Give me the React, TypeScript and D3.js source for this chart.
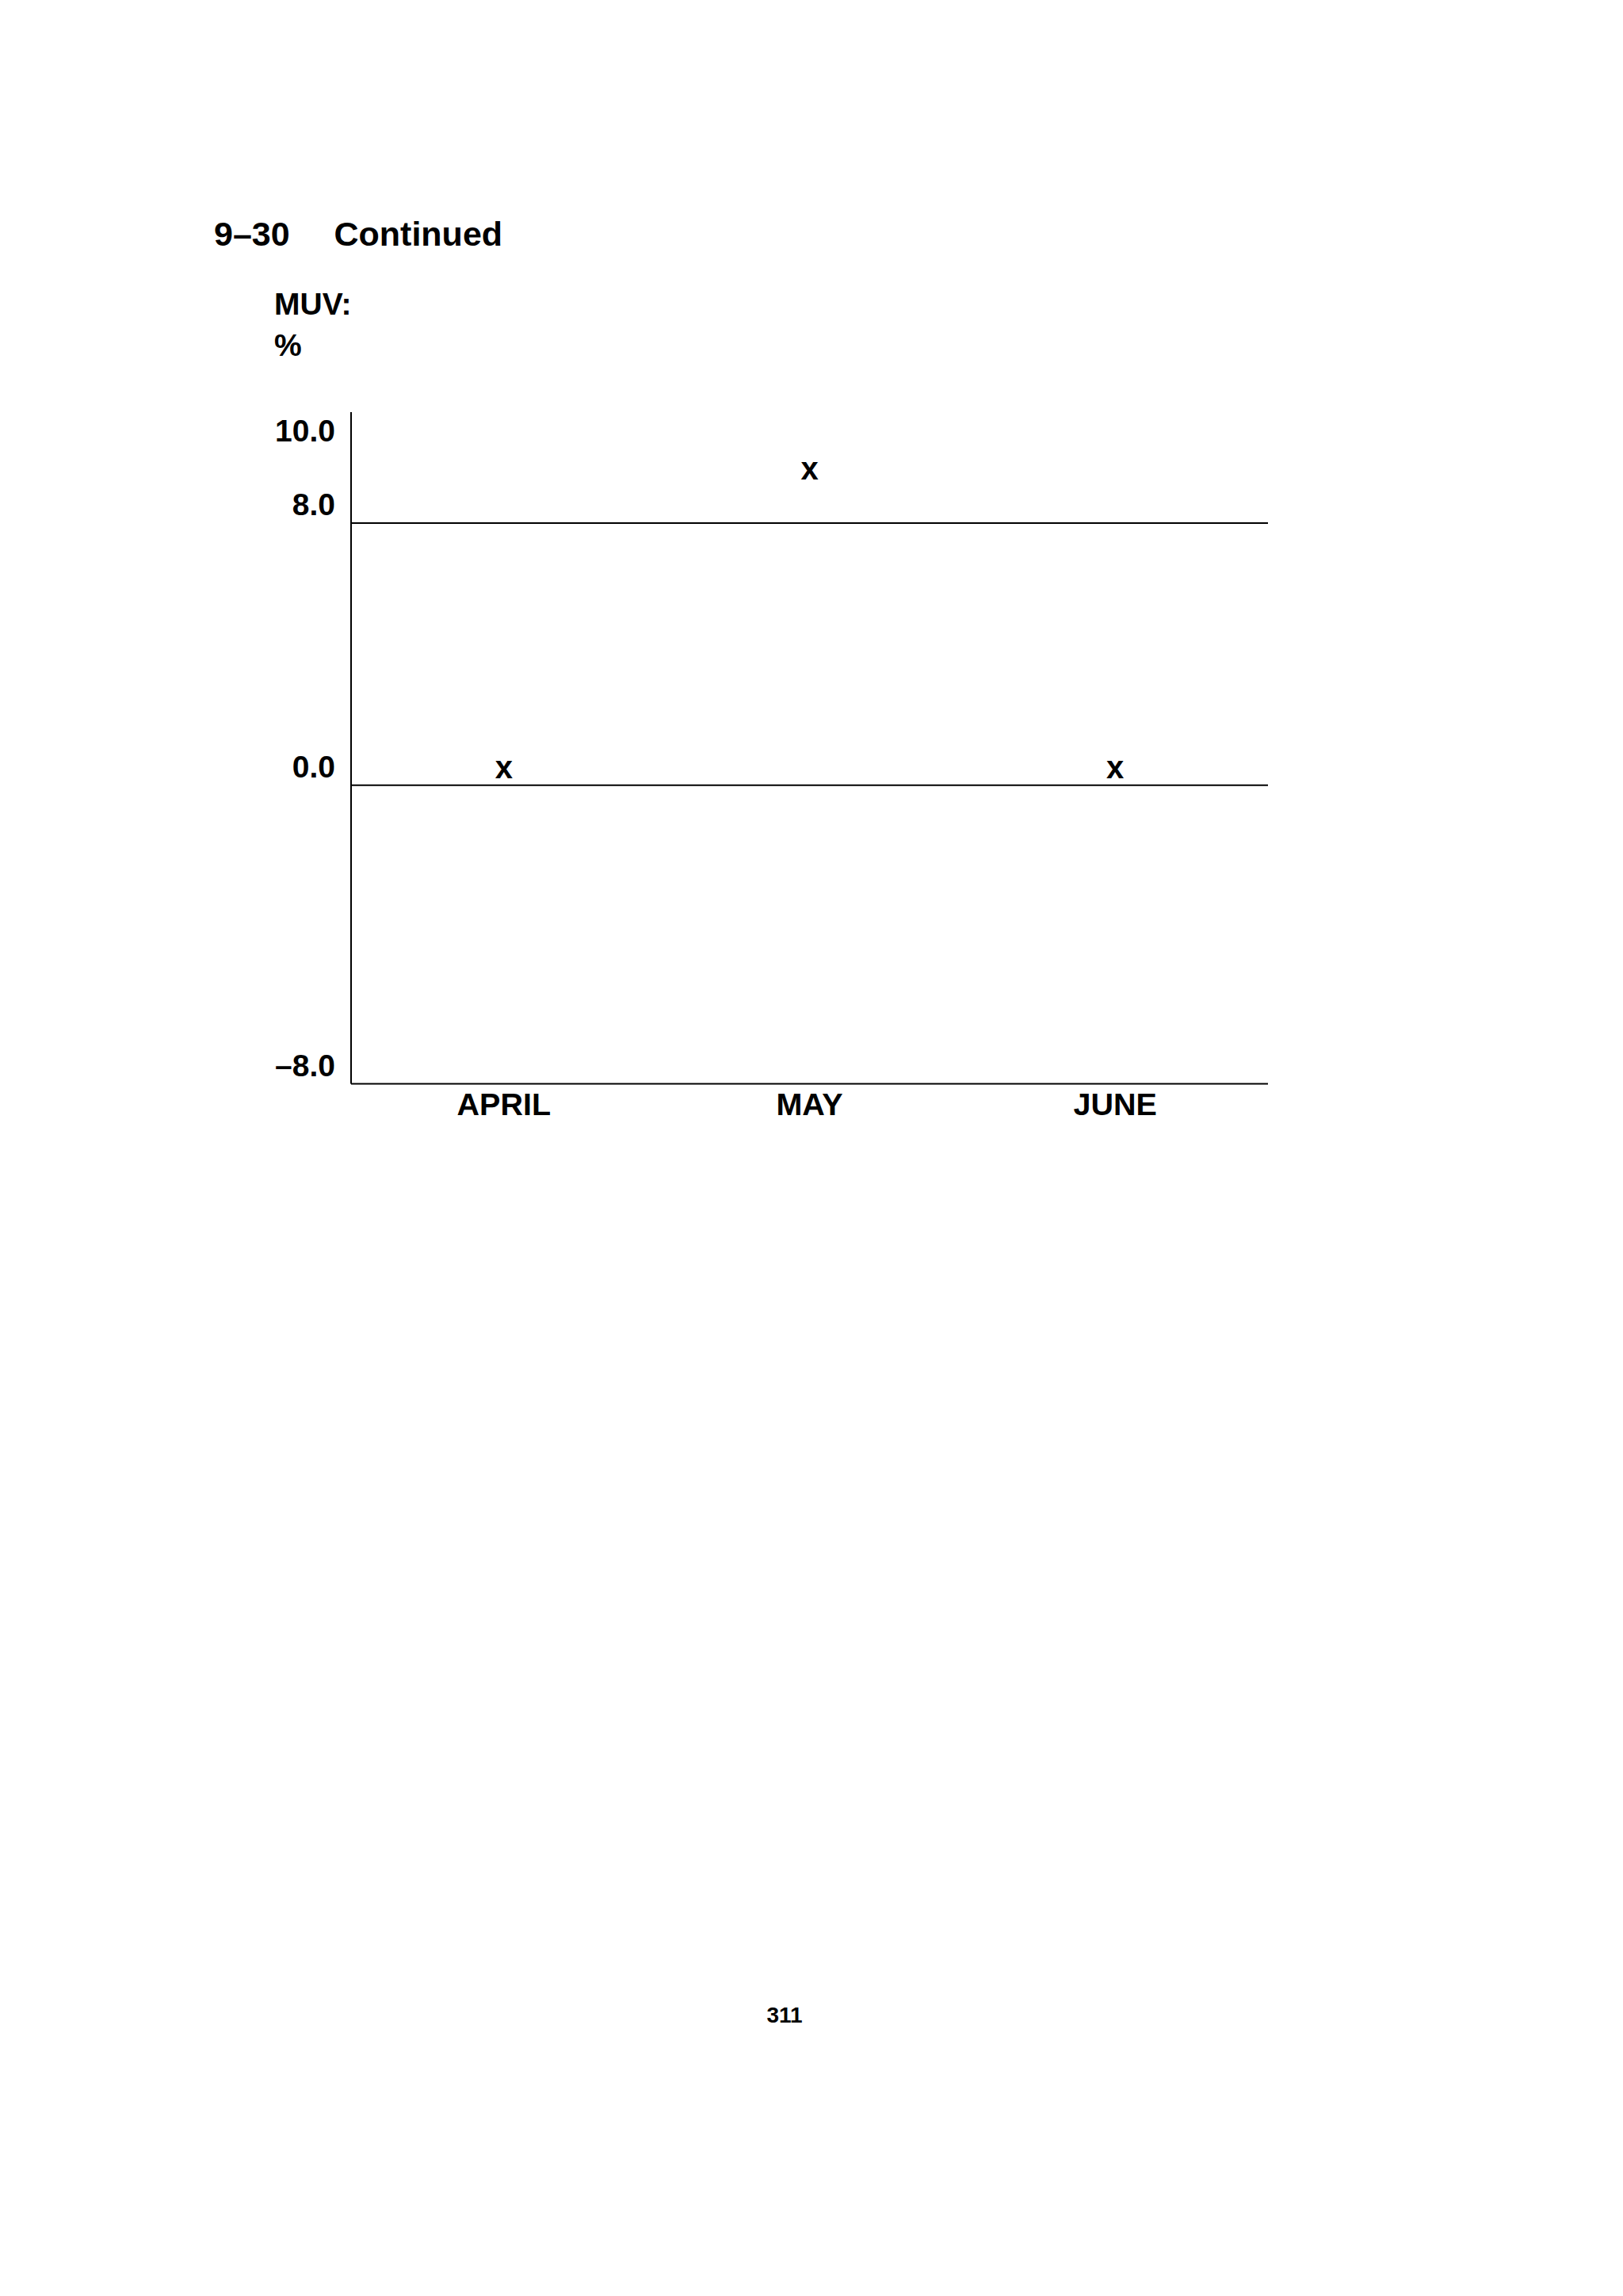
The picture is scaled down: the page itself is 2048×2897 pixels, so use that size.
import React from "react";
import * as d3 from "d3";

const months: string[] = ["APRIL", "MAY", "JUNE"];
const muvValues: number[] = [0.0, 9.0, 0.0];
const tickValues: number[] = [10, 8, 0, -8];
const tickLabels: string[] = ["10.0", "8.0", "0.0", "\u20138.0"];
const refLines: number[] = [8, 0];
const figureId = "9\u201330";
const figureTitle = "Continued";
const seriesName = "MUV:";
const unitLabel = "%";
const pageNumber = "311";

const W = 2048;
const H = 2897;
const FONT = "'Liberation Sans', Arial, Helvetica, sans-serif";

export default function App() {
  const left = 443;
  const right = 1600;
  const x = d3.scaleBand<string>().domain(months).range([left, right]).padding(0);
  const y = d3
    .scaleLinear()
    .domain([-8, 0, 8, 10, 11])
    .range([1367.5, 990.7, 660, 567, 520]);
  const cx = (m: string) => (x(m) as number) + x.bandwidth() / 2;

  return (
    <svg
      width={W}
      height={H}
      viewBox={`0 0 ${W} ${H}`}
      style={{ position: "absolute", left: 0, top: 0, background: "#fff" }}
      fontFamily={FONT}
      fontWeight="bold"
    >
      <rect x={0} y={0} width={W} height={H} fill="#fff" />
      {/* header */}
      <text x={270} y={309.5} fontSize={43} fill="#000">{figureId}</text>
      <text x={421.5} y={309.5} fontSize={43} fill="#000">{figureTitle}</text>
      <text x={346} y={397.3} fontSize={39} fill="#000">{seriesName}</text>
      <text x={346} y={449.3} fontSize={39} fill="#000">{unitLabel}</text>

      {/* y axis */}
      <line x1={left} x2={left} y1={y(11)} y2={y(-8)} stroke="#000" strokeWidth={2} />
      {/* x axis (bottom) */}
      <line x1={left} x2={right} y1={y(-8)} y2={y(-8)} stroke="#000" strokeWidth={2} />
      {/* reference lines */}
      {refLines.map((v) => (
        <line key={v} x1={left} x2={right} y1={y(v)} y2={y(v)} stroke="#000" strokeWidth={2} />
      ))}

      {/* tick labels */}
      {tickValues.map((v, i) => (
        <text key={v} x={423} y={y(v) - 10} fontSize={39} textAnchor="end" fill="#000">
          {tickLabels[i]}
        </text>
      ))}

      {/* category labels */}
      {months.map((m) => (
        <text key={m} x={cx(m)} y={1406.7} fontSize={39.5} textAnchor="middle" fill="#000">
          {m}
        </text>
      ))}

      {/* data marks */}
      {months.map((m, i) => (
        <text key={m} x={cx(m)} y={y(muvValues[i]) - 9} fontSize={40} textAnchor="middle" fill="#000">
          x
        </text>
      ))}

      {/* page number */}
      <text x={990} y={2551.7} fontSize={28} textAnchor="middle" fill="#000">{pageNumber}</text>
    </svg>
  );
}
